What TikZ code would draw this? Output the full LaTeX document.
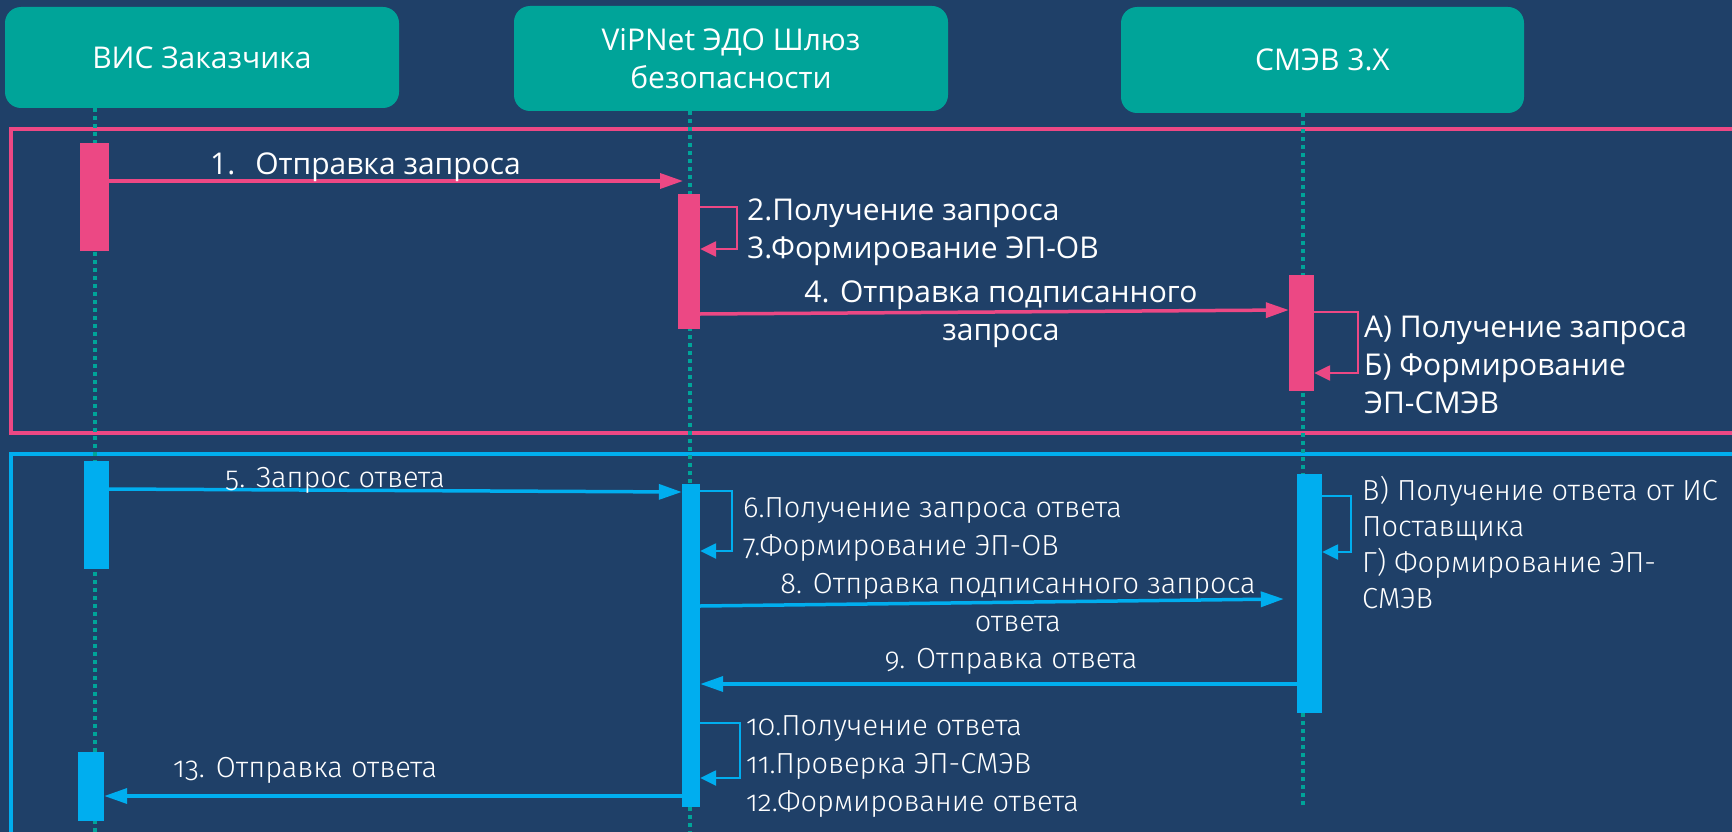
\documentclass[tikz,border=0pt]{standalone}
\usepackage{fontspec}
\setmainfont{Open Sans}
\newfontfamily\lightfont{Fira Sans Light}[Numbers=OldStyle]
\usetikzlibrary{arrows.meta}

\definecolor{bgblue}{HTML}{1F4068}
\definecolor{boxteal}{HTML}{00A499}
\definecolor{pinkline}{HTML}{EC4884}
\definecolor{blueline}{HTML}{00AEEF}

\begin{document}
\begin{tikzpicture}[x=1pt,y=-1pt,
  head/.style={fill=boxteal, rounded corners=16pt, text=white, align=center,
    inner sep=0pt, font=\fontsize{30}{38}\selectfont},
  lifeline/.style={boxteal, line width=4pt, dash pattern=on 4pt off 4pt},
  act/.style={fill=#1, inner sep=0pt},
  frame/.style={#1, line width=4pt},
  msg/.style={#1, line width=3.5pt, -{Triangle[length=23pt,width=15pt]}},
  selfmsg/.style={#1, line width=2.5pt, -{Triangle[length=16pt,width=15pt]}},
  lbl/.style={text=white, anchor=base west, align=left, inner sep=0pt,
    font=\fontsize{30}{38}\selectfont},
  lbllight/.style={lbl, font=\lightfont\fontsize{29}{38}\selectfont}]

\useasboundingbox (0,0) rectangle (1732,832);
\fill [bgblue] (0,0) rectangle (1732,832);

% Participants
\node [head, minimum width=394pt, minimum height=101pt] (vis)   at (202,57.5)  {ВИС Заказчика};
\node [head, minimum width=434pt, minimum height=105pt] (gate)  at (731,58.5)  {ViPNet ЭДО Шлюз\\безопасности};
\node [head, minimum width=403pt, minimum height=106pt] (smev)  at (1322.5,60) {СМЭВ 3.X};

% Request and response frames
\draw [frame=pinkline] (11,129) rectangle (1750,433);
\draw [frame=blueline] (11,454) rectangle (1750,840);

% Lifelines
\coordinate (visend)  at (95,832);
\coordinate (gateend) at (690,832);
\coordinate (smevend) at (1303,805);
\draw [lifeline] (vis.south -| visend)   -- (visend);
\draw [lifeline] (gate.south -| gateend) -- (gateend);
\draw [lifeline] (smev.south -| smevend) -- (smevend);

% Activations
\node [act=pinkline, minimum width=29pt, minimum height=108pt] (p1) at (94.5,197)   {};
\node [act=pinkline, minimum width=22pt, minimum height=135pt] (p2) at (689,261.5)  {};
\node [act=pinkline, minimum width=25pt, minimum height=116pt] (p3) at (1301.5,333) {};
\node [act=blueline, minimum width=25pt, minimum height=108pt] (b1) at (96.5,515)   {};
\node [act=blueline, minimum width=18pt, minimum height=323pt] (b2) at (691,645.5)  {};
\node [act=blueline, minimum width=25pt, minimum height=239pt] (b3) at (1309.5,593.5) {};
\node [act=blueline, minimum width=26pt, minimum height=69pt]  (b4) at (91,786.5)   {};

% Request
\draw [msg=pinkline] (p1.east |- 0,181) -- (683,181);
\draw [selfmsg=pinkline] (p2.east |- 0,207) -- ++(37,0) |- (p2.east |- 0,249);
\draw [msg=pinkline] (p2.east |- 0,314) -- (p3.west |- 0,310);
\draw [selfmsg=pinkline] (p3.east |- 0,312) -- ++(44,0) |- (p3.east |- 0,373);

% Response
\draw [msg=blueline] (b1.east |- 0,489) -- (b2.west |- 0,492);
\draw [selfmsg=blueline] (b2.east |- 0,491) -- ++(32,0) |- (b2.east |- 0,551);
\draw [selfmsg=blueline] (b3.east |- 0,496) -- ++(29,0) |- (b3.east |- 0,552);
\draw [msg=blueline] (b2.east |- 0,606) -- ([xshift=-13pt]b3.west |- 0,599);
\draw [msg=blueline] (b3.west |- 0,684) -- (b2.east |- 0,684);
\draw [selfmsg=blueline] (b2.east |- 0,723) -- ++(40,0) |- (b2.east |- 0,778);
\draw [msg=blueline] (b2.west |- 0,796) -- (b4.east |- 0,796);

% Labels (base = last line)
\node [lbl] (t1)  at (210,175)  {1.\hspace{20pt}Отправка запроса};
\node [lbl] (t2)  at (747,258)  {2.Получение запроса\\3.Формирование ЭП-ОВ};
\node [lbl, anchor=base, align=center] (t4) at (1001,340) {4. Отправка подписанного\\запроса};
\node [lbl] (ta)  at (1364,413) {А) Получение запроса\\Б) Формирование\\ЭП-СМЭВ};

\node [lbllight] (t5)  at (225,487) {5. Запрос ответа};
\node [lbllight] (t6)  at (743,555) {6.Получение запроса ответа\\7.Формирование ЭП-ОВ};
\node [lbllight, anchor=base, align=center] (t8) at (1018,631) {8. Отправка подписанного запроса\\ответа};
\node [lbllight, anchor=base] (t9) at (1011,668) {9. Отправка ответа};
\node [lbllight, font=\lightfont\fontsize{29}{36}\selectfont] (tv) at (1362,608)
  {В) Получение ответа от ИС\\Поставщика\\Г) Формирование ЭП-\\СМЭВ};
\node [lbllight] (t10) at (746,811) {10.Получение ответа\\11.Проверка ЭП-СМЭВ\\12.Формирование ответа};
\node [lbllight] (t13) at (173,777) {13. Отправка ответа};

\end{tikzpicture}
\end{document}
